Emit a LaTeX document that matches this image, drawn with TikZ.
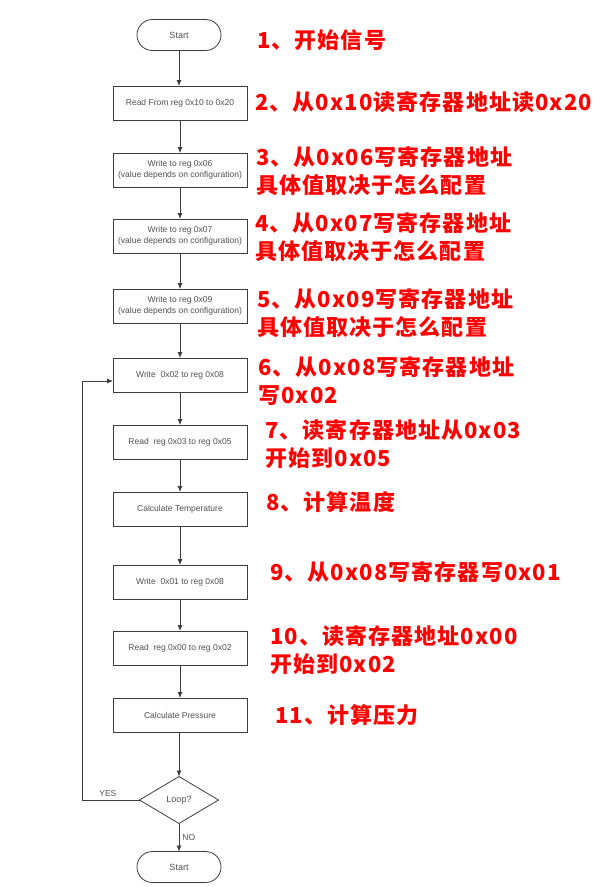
\documentclass[tikz,border=0pt]{standalone}
\usepackage{fontspec}
\setmainfont{Liberation Sans}
\newfontfamily\cjk[LetterSpace=5]{Noto Sans CJK SC}
\usetikzlibrary{shapes.geometric,arrows.meta}

\definecolor{linegray}{HTML}{3C3C3C}
\definecolor{textgray}{HTML}{505050}

\tikzset{
  stepbox/.style={draw=linegray, fill=white, line width=0.8pt, text=textgray, minimum width=134pt, minimum height=34pt, inner sep=0, outer sep=0, align=center, font=\fontsize{8.5}{10.5}\selectfont},
  termbox/.style={stepbox, rounded corners=15.5pt, minimum width=84pt, minimum height=31pt, font=\fontsize{9}{10}\selectfont},
  askbox/.style={stepbox, diamond, aspect=1.68, minimum width=79pt, minimum height=47pt, font=\fontsize{9}{10}\selectfont},
  flow/.style={draw=linegray, line width=0.8pt, -{Latex[length=6pt,width=5pt]}},
  note/.style={anchor=west, align=left, inner sep=0, text=red, font=\cjk\bfseries\fontsize{22}{28}\selectfont},
  tag/.style={inner sep=0, text=textgray, font=\fontsize{8.5}{10}\selectfont}
}

\begin{document}
\begin{tikzpicture}[x=1pt, y=-1pt]
  \useasboundingbox (0,0) rectangle (602,887);

  % flow chart
  \node [termbox] (start) at (179,35) {Start};
  \node [stepbox] (rd-init) at (180,103) {Read From reg 0x10 to 0x20};
  \node [stepbox] (wr-06) at (180,170) {Write to reg 0x06\\(value depends on configuration)};
  \node [stepbox] (wr-07) at (180,236) {Write to reg 0x07\\(value depends on configuration)};
  \node [stepbox] (wr-09) at (180,306) {Write to reg 0x09\\(value depends on configuration)};
  \node [stepbox] (wr-temp) at (180,375) {Write\ \ 0x02 to reg 0x08};
  \node [stepbox] (rd-temp) at (180,442) {Read\ \ reg 0x03 to reg 0x05};
  \node [stepbox] (calc-temp) at (180,509) {Calculate Temperature};
  \node [stepbox] (wr-press) at (180,582) {Write\ \ 0x01 to reg 0x08};
  \node [stepbox] (rd-press) at (180,648) {Read\ \ reg 0x00 to reg 0x02};
  \node [stepbox] (calc-press) at (180,715) {Calculate Pressure};
  \node [askbox] (loop) at (179,800) {Loop?};
  \node [termbox] (stop) at (179,867) {Start};

  \draw [flow] (start.south) -- (start.south |- rd-init.north);
  \draw [flow] (rd-init) -- (wr-06);
  \draw [flow] (wr-06) -- (wr-07);
  \draw [flow] (wr-07) -- (wr-09);
  \draw [flow] (wr-09) -- (wr-temp);
  \draw [flow] (wr-temp) -- (rd-temp);
  \draw [flow] (rd-temp) -- (calc-temp);
  \draw [flow] (calc-temp) -- (wr-press);
  \draw [flow] (wr-press) -- (rd-press);
  \draw [flow] (rd-press) -- (calc-press);
  \draw [flow] (calc-press.south) -- (calc-press.south -| loop.north) -- (loop.north);
  \draw [flow] (loop) -- node [tag, anchor=west, xshift=3pt] (no) {NO} (stop);

  \coordinate (back-bottom) at (82,800);
  \coordinate (back-top) at (82,381);
  \draw [flow] (loop.west) -- node [tag, above, yshift=3pt, pos=0.55] (yes) {YES} (back-bottom) -- (back-top) -- (wr-temp.west |- back-top);

  % notes
  \node [note] (n1) at (257,40) {1、开始信号};
  \node [note] (n2) at (255,102) {2、从0x10读寄存器地址读0x20};
  \node [note] (n3) at (256,171) {3、从0x06写寄存器地址\\具体值取决于怎么配置};
  \node [note] (n4) at (255,237) {4、从0x07写寄存器地址\\具体值取决于怎么配置};
  \node [note] (n5) at (257,313) {5、从0x09写寄存器地址\\具体值取决于怎么配置};
  \node [note] (n6) at (258,381) {6、从0x08写寄存器地址\\写0x02};
  \node [note] (n7) at (265,444) {7、读寄存器地址从0x03\\开始到0x05};
  \node [note] (n8) at (266,502) {8、计算温度};
  \node [note] (n9) at (270,572) {9、从0x08写寄存器写0x01};
  \node [note] (n10) at (270,650) {10、读寄存器地址0x00\\开始到0x02};
  \node [note] (n11) at (275,715) {11、计算压力};
\end{tikzpicture}
\end{document}
